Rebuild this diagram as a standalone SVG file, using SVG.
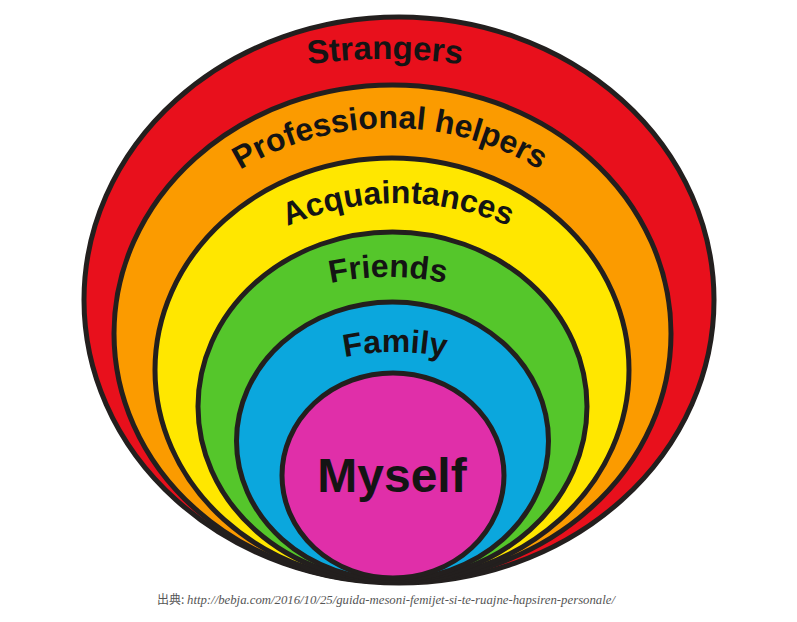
<svg xmlns="http://www.w3.org/2000/svg" width="797" height="622" viewBox="0 0 797 622">
<style>
.ring{stroke:#231f1e;stroke-width:5}
.lbl{font-family:"Liberation Sans",Arial,sans-serif;font-weight:bold;fill:#141414}
</style>
<defs>
<path id="pStr" d="M 185 95.6 A 565 565 0 0 1 585 95.6"/>
<path id="pPro" d="M 150 256 A 289 289 0 0 1 630 256"/>
<path id="pAcq" d="M 198 289.5 A 274.5 274.5 0 0 1 598 289.5"/>
<path id="pFri" d="M 238 321.7 A 274 274 0 0 1 538 321.7"/>
<path id="pFam" d="M 245 401.4 A 252.5 252.5 0 0 1 545 401.4"/>
</defs>
<rect width="797" height="622" fill="#fff"/>
<g id="strangers">
<ellipse class="ring" cx="399" cy="300" rx="315" ry="283" fill="#e8101c"/>
<text class="lbl" font-size="33"><textPath href="#pStr" startOffset="50%" text-anchor="middle">Strangers</textPath></text>
</g>
<g id="professional-helpers">
<ellipse class="ring" cx="392.5" cy="333.5" rx="278.5" ry="248.5" fill="#fb9b00"/>
<text class="lbl" font-size="32"><textPath href="#pPro" startOffset="50%" text-anchor="middle">Professional helpers</textPath></text>
</g>
<g id="acquaintances">
<ellipse class="ring" cx="392" cy="370" rx="237" ry="212" fill="#ffe700"/>
<text class="lbl" font-size="32"><textPath href="#pAcq" startOffset="50%" text-anchor="middle">Acquaintances</textPath></text>
</g>
<g id="friends">
<ellipse class="ring" cx="392.5" cy="406.5" rx="194.5" ry="174.5" fill="#55c62b"/>
<text class="lbl" font-size="32"><textPath href="#pFri" startOffset="50%" text-anchor="middle">Friends</textPath></text>
</g>
<g id="family">
<ellipse class="ring" cx="392.5" cy="441" rx="156" ry="139" fill="#0ba7dd"/>
<text class="lbl" font-size="32"><textPath href="#pFam" startOffset="50%" text-anchor="middle">Family</textPath></text>
</g>
<g id="myself">
<ellipse class="ring" cx="393" cy="475.5" rx="111" ry="102.5" fill="#e02fa9"/>
<text class="lbl" x="392" y="492" font-size="48" text-anchor="middle">Myself</text>
</g>
<g id="caption" font-size="12" fill="#555">
<text x="157" y="604" font-family="'Noto Sans CJK JP','Noto Sans CJK SC',sans-serif">出典:</text>
<text x="187" y="604" font-family="'Liberation Serif',serif" font-style="italic" textLength="428" lengthAdjust="spacingAndGlyphs">http://bebja.com/2016/10/25/guida-mesoni-femijet-si-te-ruajne-hapsiren-personale/</text>
</g>
</svg>
